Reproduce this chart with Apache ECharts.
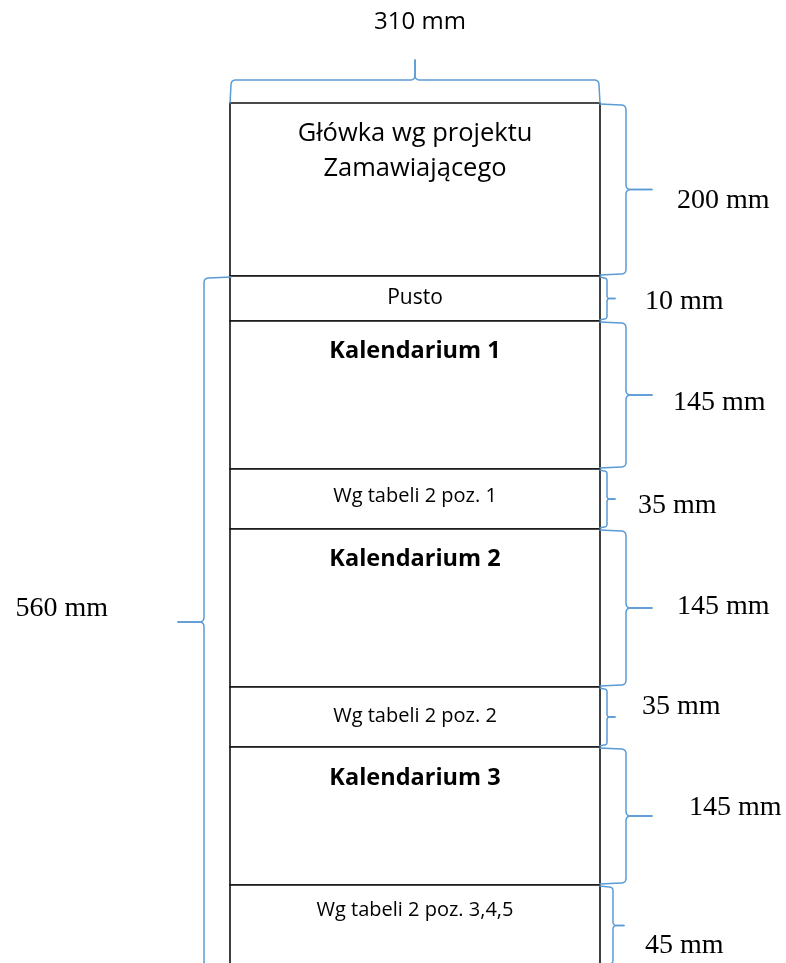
<!DOCTYPE html>
<html><head><meta charset="utf-8">
<script src="https://cdn.jsdelivr.net/npm/echarts@6/dist/echarts.min.js"></script>
<style>html,body{margin:0;padding:0;background:#fff}#c{width:786px;height:963px}</style>
</head><body><div id="c"></div>
<script>
// ---- data ----
const widthMm = 310;
const sectionTexts = ['Główka wg projektu\nZamawiającego', 'Pusto', 'Kalendarium 1', 'Wg tabeli 2 poz. 1',
  'Kalendarium 2', 'Wg tabeli 2 poz. 2', 'Kalendarium 3', 'Wg tabeli 2 poz. 3,4,5'];
const sectionBold = [false, false, true, false, true, false, true, false];
const sectionMm = [200, 10, 145, 35, 145, 35, 145, 45];
const spanMm = 560;          // spans sections 1..7
const spanFirst = 1, spanLast = 7;

// ---- layout (drawing is not to scale) ----
const drawnHeights = [173, 45, 148, 60, 158, 60, 138, 81];
const textDy = [47.8, 22.5, 30.5, 27, 30.5, 29, 31, 25];
const textSize = [25.5, 21, 23.5, 20, 23.5, 20, 23.5, 20];
const braceDepth = [26, 7, 26, 7, 26, 7, 26, 13];
const braceTip = [52, 15, 52, 15, 52, 15, 52, 24];
const braceCurl = [5, 3, 5, 3, 5, 3, 5, 4];
const labelDx = [77, 45, 73, 38, 77, 42, 89, 45];
const labelDy = [11.5, 3.5, 8, 6.5, -1, -10, -8, 20.5];

const cum = [0];
drawnHeights.forEach(h => cum.push(cum[cum.length - 1] + h));

const BLUE = '#5B9BD5';
const SERIF = '28px "Liberation Serif", "Times New Roman", serif';

function braceParts(origin, u, n, L, d, t, r) {
  const P = (a, b) => [origin[0] + u[0] * a + n[0] * b, origin[1] + u[1] * a + n[1] * b];
  const q = (A, C, B, out) => {
    for (let k = 1; k <= 10; k++) {
      const s = k / 10, w0 = (1 - s) * (1 - s), w1 = 2 * (1 - s) * s, w2 = s * s;
      out.push(P(w0 * A[0] + w1 * C[0] + w2 * B[0], w0 * A[1] + w1 * C[1] + w2 * B[1]));
    }
  };
  const m = L / 2;
  const h1 = [P(0, 0), P(1, d - r)];
  q([1, d - r], [1, d], [1 + r, d], h1);
  h1.push(P(m - r, d));
  q([m - r, d], [m, d], [m, d + r], h1);
  h1.push(P(m, t));
  const h2 = [P(m, t), P(m, d + r)];
  q([m, d + r], [m, d], [m + r, d], h2);
  h2.push(P(L - 1 - r, d));
  q([L - 1 - r, d], [L - 1, d], [L - 1, d - r], h2);
  h2.push(P(L, 0));
  return { parts: [h1, h2], tip: P(m, t) };
}

// brace list
const braces = sectionMm.map((mm, i) => ({ side: 'right', from: cum[i], to: cum[i + 1], text: mm + ' mm', i }));
braces.push({ side: 'top', from: 0, to: widthMm, text: widthMm + ' mm' });
braces.push({ side: 'left', from: cum[spanFirst], to: cum[spanLast + 1], text: spanMm + ' mm' });

const chart = echarts.init(document.getElementById('c'), null, { renderer: 'canvas' });
chart.setOption({
  animation: false,
  backgroundColor: '#fff',
  grid: { left: 230, top: 103, width: 370, height: 860, outerBoundsMode: 'none' },
  xAxis: { type: 'value', min: 0, max: widthMm, show: false },
  yAxis: { type: 'value', min: 0, max: 860, inverse: true, show: false },
  series: [
    {
      type: 'custom', clip: false,
      data: sectionMm.map((mm, i) => [i, cum[i], cum[i + 1]]),
      renderItem(params, api) {
        const i = params.dataIndex;
        const p0 = api.coord([0, api.value(1)]);
        const p1 = api.coord([widthMm, api.value(2)]);
        return {
          type: 'group', children: [
            { type: 'rect', shape: { x: p0[0], y: p0[1], width: p1[0] - p0[0], height: p1[1] - p0[1] },
              style: { fill: '#fff', stroke: '#111', lineWidth: 1.6 } },
            { type: 'text', style: {
                text: sectionTexts[i], x: (p0[0] + p1[0]) / 2, y: p0[1] + textDy[i],
                align: 'center', verticalAlign: 'middle', lineHeight: 35, fill: '#000',
                font: (sectionBold[i] ? 'bold ' : '') + textSize[i] + 'px "Open Sans", sans-serif' } }
          ]
        };
      }
    },
    {
      type: 'custom', clip: false, z: 3,
      data: braces.map(b => [b.from, b.to]),
      renderItem(params, api) {
        const b = braces[params.dataIndex];
        const from = api.value(0), to = api.value(1);
        let res, label;
        if (b.side === 'right') {
          const a = api.coord([widthMm, from]), c = api.coord([widthMm, to]);
          const o = [a[0], a[1] + 1];
          const L = c[1] - a[1] - 2;
          res = braceParts(o, [0, 1], [1, 0], L, braceDepth[b.i], braceTip[b.i], braceCurl[b.i]);
          label = { text: b.text, x: a[0] + labelDx[b.i], y: res.tip[1] + labelDy[b.i], align: 'left', verticalAlign: 'middle', font: SERIF };
        } else if (b.side === 'top') {
          const a = api.coord([from, 0]), c = api.coord([to, 0]);
          res = braceParts(a, [1, 0], [0, -1], c[0] - a[0], 23, 43, 5);
          label = { text: b.text, x: res.tip[0] + 5, y: res.tip[1] - 37.5, align: 'center', verticalAlign: 'middle',
            font: '24px "Open Sans", sans-serif' };
        } else {
          const a = api.coord([0, from]), c = api.coord([0, to]);
          const o = [a[0] + 1, a[1] + 1];
          res = braceParts(o, [0, 1], [-1, 0], c[1] - a[1], 27, 53, 5);
          label = { text: b.text, x: res.tip[0] - 70, y: res.tip[1] - 13, align: 'right', verticalAlign: 'middle', font: SERIF };
        }
        const children = res.parts.map(pts => ({
          type: 'polyline', shape: { points: pts },
          style: { stroke: BLUE, lineWidth: 1.5, fill: null, lineJoin: 'round', lineCap: 'round' }
        }));
        label.fill = '#000';
        children.push({ type: 'text', style: label });
        return { type: 'group', children };
      }
    }
  ]
});
</script></body></html>
